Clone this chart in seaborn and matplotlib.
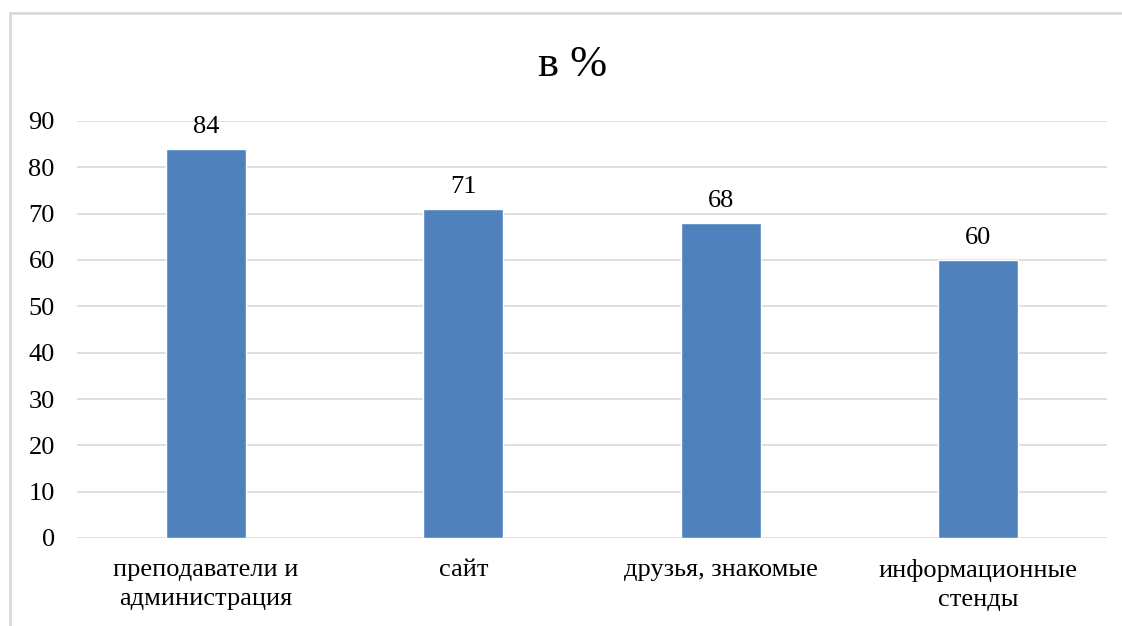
import matplotlib
matplotlib.use("Agg")
import matplotlib.pyplot as plt
import seaborn as sns
import pandas as pd
from matplotlib.patches import Rectangle

categories = ["преподаватели и\nадминистрация", "сайт", "друзья, знакомые", "информационные\nстенды"]
values = [84, 71, 68, 60]
yticks = [0, 10, 20, 30, 40, 50, 60, 70, 80, 90]
title = "в %"

sns.set_theme(style="white")
plt.rcParams["font.family"] = ["Liberation Serif", "DejaVu Serif"]

df = pd.DataFrame({"category": categories, "value": values})

fig = plt.figure(figsize=(11.22, 6.26), dpi=100)
ax = fig.add_axes([77 / 1122, 1 - 538 / 626, (1107 - 77) / 1122, (538 - 121) / 626])

sns.barplot(data=df, x="category", y="value", color="#4F81BD", saturation=1,
            width=0.31, ax=ax, zorder=3)

ax.set_ylim(0, 90)
ax.set_yticks(yticks)
ax.set_xlim(-0.5, len(categories) - 0.5)
ax.grid(axis="y", color="#D9D9D9", linewidth=1.2, zorder=0)
ax.grid(axis="x", visible=False)
for s in ax.spines.values():
    s.set_visible(False)
ax.set_xlabel("")
ax.set_ylabel("")
ax.tick_params(axis="y", labelsize=19, length=0, pad=16, colors="black")
ax.tick_params(axis="x", labelsize=19, length=0, pad=15, colors="black")
for lbl in ax.get_xticklabels():
    lbl.set_linespacing(1.4)

for i, v in enumerate(values):
    ax.annotate(str(v), (i, v), xytext=(0, 8), textcoords="offset points",
                ha="center", va="bottom", fontsize=19, color="black")

fig.text(573 / 1122, 1 - 65 / 626, title, ha="center", va="center", fontsize=32, color="black")

# chart frame
fig.patches.append(Rectangle((10 / 1122, -0.1), 1.2, 1 - 13 / 626 + 0.1,
                             transform=fig.transFigure, fill=False,
                             edgecolor="#D9D9D9", linewidth=2))

fig.savefig("out.png", dpi=100)
